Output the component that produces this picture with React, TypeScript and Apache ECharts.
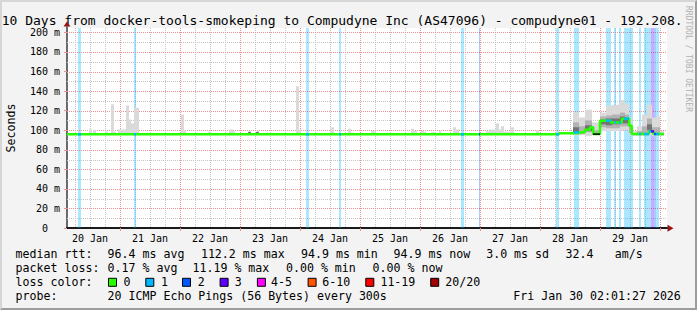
import { useEffect, useRef } from "react";
import * as echarts from "echarts";

const titleText =
  "10 Days from docker-tools-smokeping to Compudyne Inc (AS47096) - compudyne01 - 192.208.";
const watermark = "RRDTOOL / TOBI OETIKER";
const yAxisName = "Seconds";

// hours since 20 Jan 00:00
const X_MIN = 2.8;
const X_MAX = 242.8;
const Y_MAX = 204.5;

const dayLabels = ["20 Jan", "21 Jan", "22 Jan", "23 Jan", "24 Jan", "25 Jan", "26 Jan", "27 Jan", "28 Jan", "29 Jan"];
const dayLabelHours = [12, 36, 60, 84, 108, 132, 156, 180, 204, 228];
const dayLineHours = [24, 48, 72, 96, 120, 144, 168, 192, 216, 240];
const yLabelValues = [0, 20, 40, 60, 80, 100, 120, 140, 160, 180, 200];

const lossColors = ["#26ff00", "#00b8ff", "#0059ff", "#5e00ff", "#ff00ff", "#ff5500", "#ff0000", "#a10000"];
const lossLabels = ["0", "1", "2", "3", "4-5", "6-10", "11-19", "20/20"];

// [startHour, endHour, lossColorIndex]
const lossBands = [
  [7.3, 8.4, 1], [29.6, 30.3, 1], [98.3, 99.6, 1], [111.6, 112.4, 1],
  [160.3, 161.6, 1], [167.6, 168.0, 2], [198.4, 199.6, 1], [205.6, 207.6, 1],
  [218.4, 220.4, 1], [221.6, 222.4, 1], [223.6, 224.4, 1], [225.6, 229.2, 1],
  [231.6, 232.4, 1], [233.6, 236.3, 1], [236.3, 237.4, 3], [237.4, 238.2, 2],
  [238.2, 239.7, 1],
];

// median rtt steps [hour, ms]
const medianSteps = [
  [2.8, 95.8], [199.6, 97], [207.6, 97.8], [210, 100.5], [212, 103], [213.3, 96],
  [216, 109.7], [220.3, 108], [224.7, 111.8], [227.7, 104.6], [228.7, 96],
  [235.5, 98.8], [237.4, 96], [241.6, 96],
];

// median segments coloured by loss [h0, h1, ms, colorIndex] (-1 = black)
const medianLossSegments = [
  [7.3, 8.4, 95.8, 1], [29.6, 30.3, 95.8, 1], [98.3, 99.6, 95.8, 1], [111.6, 112.4, 95.8, 1],
  [160.3, 161.6, 95.8, 1], [167.6, 168.0, 95.8, 2], [198.4, 199.6, 95.8, 1],
  [205.6, 207.6, 97.8, 1], [213.3, 216, 96, -1], [218.4, 220.3, 109.7, 1],
  [221.6, 222.4, 108, 1], [223.6, 224.4, 108, 1], [225.6, 227.7, 111.8, 1],
  [231.6, 232.4, 96, 1], [233.6, 235.5, 96, 1], [235.5, 236.3, 98.8, 1],
  [236.3, 237.4, 98.8, 3], [237.4, 238.2, 96, 2], [238.2, 239.7, 96, 1],
];

// smoke outer range [h0, h1, low, high]
const smokeLight = [
  [7.2, 7.6, 95, 102.6], [11.7, 12.7, 95, 100.8], [13.3, 14.4, 95, 100], [18, 19.2, 95, 98.5],
  [20.3, 21.6, 95, 126.5], [21.6, 22.4, 95, 98.5], [23.3, 24.7, 95, 100.8], [24.7, 26.4, 95, 100.8],
  [26.4, 27.7, 95, 125.4], [27.7, 28.3, 95, 111], [28.3, 29.6, 95, 107], [29.6, 31.6, 95, 123],
  [31.6, 32.4, 95, 97], [48.3, 49.6, 95, 116], [49.6, 50.3, 95, 100], [59.2, 60.3, 95, 98.5],
  [67.6, 69.2, 95, 100.8], [69.2, 70, 95, 99], [82.3, 83.6, 95, 97.5], [92.3, 93.6, 95, 97],
  [94.3, 95.7, 95, 145], [95.7, 96.3, 95, 100.8], [108, 109.6, 95, 103], [115.3, 116.4, 95, 101.5],
  [116.4, 117.6, 95, 97.5], [124.4, 126.4, 95, 99], [140.4, 141.6, 95, 101.5], [141.6, 142.7, 95, 99],
  [144.3, 145.6, 95, 99], [145.6, 146.4, 95, 98.5], [148.4, 150.4, 95, 98], [151.6, 152.4, 95, 99],
  [157.3, 158.3, 95, 103], [158.3, 159.7, 95, 100.8], [170.4, 172, 95, 99], [172, 174.3, 95, 100.8],
  [174.3, 175.6, 95, 107], [175.6, 176.4, 95, 100.8], [176.4, 177.6, 95, 104], [177.6, 180, 95, 98.5],
  [180, 181.6, 95, 103], [190.4, 191.7, 95, 100],
  [205.2, 207.6, 95, 118], [207.6, 210, 95, 113], [210, 212.8, 94, 121], [212.8, 216, 95, 108],
  [216, 218.4, 99, 118], [218.4, 220.8, 99, 125], [220.8, 224, 99, 126], [224, 226, 100, 131],
  [226, 227.6, 100, 127], [227.6, 228.8, 95, 112], [228.8, 230.8, 94, 99], [230.8, 232.8, 94, 104],
  [232.8, 234.8, 94, 116], [234.8, 236.8, 95, 126], [236.8, 238.4, 94, 113], [238.4, 240, 94, 114],
  [240, 241.6, 94, 99],
];

// smoke inner range [h0, h1, low, high]
const smokeMid = [
  [205.2, 207.6, 97, 108], [207.6, 210, 96, 104], [210, 212.8, 98, 110], [212.8, 216, 95, 100],
  [216, 218.4, 103, 114], [218.4, 220.8, 102, 115], [220.8, 224, 102, 116], [224, 226, 104, 118],
  [226, 227.6, 104, 116], [227.6, 228.8, 97, 104], [230.8, 232.8, 95, 99], [232.8, 234.8, 96, 104],
  [234.8, 236.8, 98, 112], [236.8, 238.4, 96, 103], [238.4, 240, 96, 103],
];

// smoke core range [h0, h1, low, high]
const smokeDark = [
  [75.2, 76.4, 96.8, 98.4], [78.4, 79.6, 96.8, 98.4],
  [205.2, 207.6, 98, 103], [210, 212.8, 99, 105], [216, 218.4, 106, 111], [218.4, 220.8, 105, 112],
  [220.8, 224, 106, 112], [224, 226, 107, 114], [226, 227.6, 107, 113], [234.8, 236.8, 100, 106],
];

const rttLabel = "median rtt:";
const rttStats = ["96.4 ms avg", "112.2 ms max", "94.9 ms min", "94.9 ms now", "3.0 ms sd", "32.4", "am/s"];
const lossLabel = "packet loss:";
const lossStats = ["0.17 % avg", "11.19 % max", "0.00 % min", "0.00 % now"];
const lossColorLabel = "loss color:";
const probeLabel = "probe:";
const probeText = "20 ICMP Echo Pings (56 Bytes) every 300s";
const dateText = "Fri Jan 30 02:01:27 2026";

// layout
const rttX = [107.6, 200.9, 301, 393.5, 486.2, 565.5, 614.7];
const lossX = [107.6, 192.5, 286, 372.6];
const boxX = [108, 145.3, 182, 219.6, 256.9, 307.6, 365.3, 430.2];
const boxLabelX = [123.6, 160.9, 197.8, 234.7, 271, 322.2, 380.4, 445.3];
const rowY = [254.3, 268, 282.3, 296];

const MONO = "'DejaVu Sans Mono', monospace";
const GRID_GRAY = "#c6c6c6";
const GRID_RED = "#f09090";
const MEDIAN_W = 2.5;

function rgba(hex: string, a: number) {
  const n = parseInt(hex.slice(1), 16);
  return `rgba(${(n >> 16) & 255},${(n >> 8) & 255},${n & 255},${a})`;
}

function buildOption() {
  const vLines: number[][] = [];
  for (let h = 6; h <= 240; h += 6) vLines.push([h, h % 24 === 0 ? 1 : 0]);
  const hLines: number[][] = [];
  for (let v = 10; v <= 200; v += 10) hLines.push([X_MIN, v, v % 20 === 0 ? 1 : 0]);

  const rectFrom = (api: any, h0: number, h1: number, lo: number, hi: number) => {
    const p0 = api.coord([h0, hi]);
    const p1 = api.coord([h1, lo]);
    const x0 = Math.round(p0[0]);
    const x1 = Math.max(Math.round(p1[0]), x0 + 1);
    return { x: x0, y: p0[1], width: x1 - x0, height: Math.max(p1[1] - p0[1], 1) };
  };

  const smokeSeries = (data: number[][], color: string, z: number) => ({
    type: "custom",
    z,
    silent: true,
    data,
    encode: { x: [0, 1], y: [2, 3] },
    renderItem: (_p: any, api: any) => ({
      type: "rect",
      shape: rectFrom(api, api.value(0), api.value(1), api.value(2), api.value(3)),
      style: { fill: color },
    }),
  });

  const graphics: any[] = [];
  const txt = (text: string, x: number, y: number, extra: any = {}) =>
    graphics.push({
      type: "text",
      x,
      y,
      silent: true,
      style: { text, fill: "#000", fontSize: 11.6, fontFamily: MONO, verticalAlign: "middle", ...extra },
    });

  txt(titleText, 1.7, 20, { fontSize: 13 });
  graphics.push({
    type: "text",
    x: 688.5,
    y: 59,
    rotation: -Math.PI / 2,
    silent: true,
    style: { text: watermark, fill: "#b0b0b0", fontSize: 8, fontFamily: MONO, align: "center", verticalAlign: "middle" },
  });
  txt(rttLabel, 15.6, rowY[0]);
  rttStats.forEach((s, i) => txt(s, rttX[i], rowY[0]));
  txt(lossLabel, 15.6, rowY[1]);
  lossStats.forEach((s, i) => txt(s, lossX[i], rowY[1]));
  txt(lossColorLabel, 15.6, rowY[2]);
  lossLabels.forEach((s, i) => {
    graphics.push({
      type: "rect",
      silent: true,
      shape: { x: boxX[i] + 0.5, y: rowY[2] - 4, width: 8, height: 8 },
      style: { fill: lossColors[i], stroke: "#000", lineWidth: 1 },
    });
    txt(s, boxLabelX[i], rowY[2]);
  });
  txt(probeLabel, 15.6, rowY[3]);
  txt(probeText, 107.6, rowY[3]);
  txt(dateText, 513.3, rowY[3]);
  // axis arrows
  graphics.push({
    type: "polygon",
    silent: true,
    shape: { points: [[63.5, 26.5], [70.5, 26.5], [67, 21.5]] },
    style: { fill: "#9a1414" },
  });
  graphics.push({
    type: "line",
    silent: true,
    shape: { x1: 67, y1: 28.5, x2: 67, y2: 26 },
    style: { stroke: "#6a6a6a", lineWidth: 2 },
  });
  graphics.push({
    type: "polygon",
    silent: true,
    shape: { points: [[667.5, 224.8], [667.5, 231.8], [673.5, 228.3]] },
    style: { fill: "#9a1414" },
  });

  return {
    animation: false,
    backgroundColor: "#f3f3f3",
    grid: {
      left: 67,
      right: 30,
      top: 28,
      bottom: 82,
      show: true,
      backgroundColor: "#ffffff",
      borderWidth: 0,
      containLabel: false,
      outerBoundsMode: "none",
    },
    xAxis: {
      type: "value",
      min: X_MIN,
      max: X_MAX,
      splitLine: { show: false },
      axisLine: { show: true, onZero: false, lineStyle: { color: "#1a1a1a", width: 2 } },
      axisTick: { show: true, length: 3, customValues: dayLineHours, lineStyle: { color: GRID_RED } },
      axisLabel: {
        customValues: dayLabelHours,
        formatter: (v: number) => dayLabels[Math.round((v - 12) / 24)] ?? "",
        fontFamily: MONO,
        fontSize: 10,
        color: "#000",
        margin: 5,
      },
    },
    yAxis: {
      type: "value",
      min: 0,
      max: Y_MAX,
      name: yAxisName,
      nameLocation: "middle",
      nameGap: 50,
      nameTextStyle: { fontFamily: MONO, fontSize: 11.6, color: "#000" },
      splitLine: { show: false },
      axisLine: { show: true, lineStyle: { color: "#6a6a6a", width: 2 } },
      axisTick: { show: true, length: 3, customValues: yLabelValues, lineStyle: { color: GRID_RED } },
      axisLabel: {
        customValues: yLabelValues,
        formatter: (v: number) => (v === 0 ? "0\u00a0\u00a0" : `${v} m`),
        fontFamily: MONO,
        fontSize: 10,
        color: "#000",
        margin: 7,
      },
    },
    graphic: graphics,
    series: [
      {
        type: "custom",
        z: 1,
        silent: true,
        data: vLines,
        encode: { x: 0 },
        renderItem: (_p: any, api: any) => {
          const h = api.value(0);
          const top = api.coord([h, Y_MAX]);
          const bot = api.coord([h, 0]);
          const x = Math.round(top[0]) + 0.5;
          return {
            type: "line",
            shape: { x1: x, y1: top[1], x2: x, y2: bot[1] },
            style: { stroke: api.value(1) ? GRID_RED : GRID_GRAY, lineWidth: 1, lineDash: [1, 1] },
          };
        },
      },
      {
        type: "custom",
        z: 1,
        silent: true,
        data: hLines,
        encode: { x: 0, y: 1 },
        renderItem: (_p: any, api: any) => {
          const v = api.value(1);
          const l = api.coord([X_MIN, v]);
          const r = api.coord([X_MAX, v]);
          const y = Math.round(l[1]) + 0.5;
          return {
            type: "line",
            shape: { x1: l[0], y1: y, x2: r[0], y2: y },
            style: { stroke: api.value(2) ? GRID_RED : GRID_GRAY, lineWidth: 1, lineDash: [1, 1] },
          };
        },
      },
      {
        type: "custom",
        z: 2,
        silent: true,
        data: lossBands,
        encode: { x: [0, 1] },
        renderItem: (_p: any, api: any) => ({
          type: "rect",
          shape: rectFrom(api, api.value(0), api.value(1), 0, Y_MAX),
          style: { fill: rgba(lossColors[api.value(2)], 0.33) },
        }),
      },
      smokeSeries(smokeLight, "#dadada", 3),
      smokeSeries(smokeMid, "#b2b2b2", 3),
      smokeSeries(smokeDark, "#747474", 3),
      {
        type: "line",
        z: 4,
        silent: true,
        step: "end",
        data: medianSteps,
        showSymbol: false,
        symbol: "none",
        lineStyle: { color: lossColors[0], width: MEDIAN_W },
      },
      {
        type: "custom",
        z: 5,
        silent: true,
        data: medianLossSegments,
        encode: { x: [0, 1], y: 2 },
        renderItem: (_p: any, api: any) => {
          const v = api.value(2);
          const ci = api.value(3);
          const r = rectFrom(api, api.value(0), api.value(1), v, v);
          const hgt = ci < 0 ? 1.5 : MEDIAN_W;
          return {
            type: "rect",
            shape: { x: r.x, y: r.y - hgt / 2, width: r.width, height: hgt },
            style: { fill: ci < 0 ? "#000000" : lossColors[ci] },
          };
        },
      },
    ],
  };
}

export default function App() {
  const ref = useRef<HTMLDivElement>(null);
  useEffect(() => {
    if (!ref.current) return;
    const chart = echarts.init(ref.current, null, { renderer: "svg" });
    chart.setOption(buildOption() as any);
    return () => chart.dispose();
  }, []);
  return (
    <div style={{ position: "fixed", left: 0, top: 0, width: 697, height: 310 }}>
      <div ref={ref} style={{ width: 697, height: 310 }} />
      <div
        style={{
          position: "absolute",
          left: 0,
          top: 0,
          width: 697,
          height: 310,
          boxSizing: "border-box",
          borderTop: "2px solid #d6d6d6",
          borderLeft: "2px solid #d6d6d6",
          borderBottom: "2px solid #9c9c9c",
          borderRight: "2px solid #9c9c9c",
          pointerEvents: "none",
        }}
      />
    </div>
  );
}
